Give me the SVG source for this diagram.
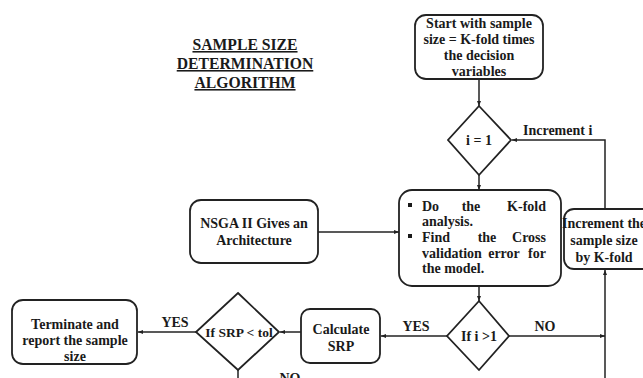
<svg xmlns="http://www.w3.org/2000/svg" width="643" height="378" viewBox="0 0 643 378">
<style>
text{font-family:"Liberation Serif","Times New Roman",serif;font-weight:bold;font-size:14px;fill:#1a1a1a}
.c{text-anchor:middle}
.r{text-anchor:end}
.title{font-size:15.7px;text-decoration:underline}
.box{fill:#fff;stroke:#222;stroke-width:1.8}
.con{fill:none;stroke:#222;stroke-width:1.5}
</style>
<defs>
<marker id="ah" viewBox="0 0 10 10" refX="10" refY="5" markerWidth="5" markerHeight="5" orient="auto" markerUnits="userSpaceOnUse">
<path d="M0,1 L10,5 L0,9 z" fill="#222"/>
</marker>
</defs>
<rect width="643" height="378" fill="#fff"/>
<g id="title">
<text class="c title" x="245" y="50">SAMPLE SIZE</text>
<text class="c title" x="245" y="69">DETERMINATION</text>
<text class="c title" x="245" y="88">ALGORITHM</text>
</g>
<g id="connectors">
<line class="con" x1="479" y1="79" x2="479" y2="106" marker-end="url(#ah)"/>
<line class="con" x1="479" y1="175" x2="479" y2="190" marker-end="url(#ah)"/>
<line class="con" x1="318" y1="232" x2="399" y2="232" marker-end="url(#ah)"/>
<line class="con" x1="479" y1="286" x2="479" y2="301" marker-end="url(#ah)"/>
<line class="con" x1="447" y1="336" x2="381" y2="336" marker-end="url(#ah)"/>
<line class="con" x1="301" y1="332" x2="280" y2="332" marker-end="url(#ah)"/>
<line class="con" x1="196" y1="332" x2="138" y2="332" marker-end="url(#ah)"/>
<line class="con" x1="238" y1="370" x2="238" y2="380"/>
<line class="con" x1="509" y1="336" x2="605" y2="336" marker-end="url(#ah)"/>
<line class="con" x1="605" y1="380" x2="605" y2="270" marker-end="url(#ah)"/>
<polyline class="con" points="605,209 605,140 512,140" marker-end="url(#ah)"/>
<text x="523" y="135">Increment i</text>
<text class="c" x="416" y="331">YES</text>
<text class="c" x="545" y="331">NO</text>
<text class="c" x="175" y="327">YES</text>
<text class="c" x="290" y="383">NO</text>
</g>
<g id="start">
<rect class="box" x="415" y="15" width="128" height="64" rx="11"/>
<text class="c" x="479" y="28">Start with sample</text>
<text class="c" x="479" y="44">size = K-fold times</text>
<text class="c" x="479" y="60">the decision</text>
<text class="c" x="479" y="76">variables</text>
</g>
<g id="i1">
<polygon class="box" points="479,106 511,140 479,175 448,140"/>
<text class="c" x="479" y="145">i = 1</text>
</g>
<g id="nsga">
<rect class="box" x="190" y="200" width="128" height="63" rx="11"/>
<text class="c" x="254" y="228">NSGA II Gives an</text>
<text class="c" x="254" y="245">Architecture</text>
</g>
<g id="process">
<rect class="box" x="399" y="190" width="162" height="96" rx="13"/>
<rect x="408" y="203" width="4" height="4" fill="#1a1a1a"/>
<text x="422" y="211">Do</text>
<text class="c" x="471" y="211">the</text>
<text class="r" x="546" y="211">K-fold</text>
<text x="422" y="226">analysis.</text>
<rect x="408" y="234" width="4" height="4" fill="#1a1a1a"/>
<text x="422" y="242">Find</text>
<text class="c" x="487" y="242">the</text>
<text class="r" x="546" y="242">Cross</text>
<text x="422" y="258">validation</text>
<text class="c" x="504" y="258">error</text>
<text class="r" x="546" y="258">for</text>
<text x="422" y="273">the model.</text>
</g>
<g id="increment">
<rect class="box" x="564" y="209" width="100" height="60" rx="10"/>
<text class="c" x="604" y="228">Increment the</text>
<text class="c" x="604" y="245">sample size</text>
<text class="c" x="604" y="262">by K-fold</text>
</g>
<g id="ifi">
<polygon class="box" points="479,301 509,336 479,370 447,336"/>
<text class="c" x="479" y="341">If i &gt;1</text>
</g>
<g id="calc">
<rect class="box" x="301" y="309" width="79" height="54" rx="9"/>
<text class="c" x="341" y="334">Calculate</text>
<text class="c" x="341" y="351">SRP</text>
</g>
<g id="ifsrp">
<polygon class="box" points="238,293 279,332 238,370 196,332"/>
<text class="c" x="239" y="337" style="font-size:13.5px">If SRP &lt; tol</text>
</g>
<g id="terminate">
<rect class="box" x="12" y="300" width="125" height="64" rx="11"/>
<text class="c" x="75" y="329">Terminate and</text>
<text class="c" x="75" y="345">report the sample</text>
<text class="c" x="75" y="361">size</text>
</g>
</svg>
